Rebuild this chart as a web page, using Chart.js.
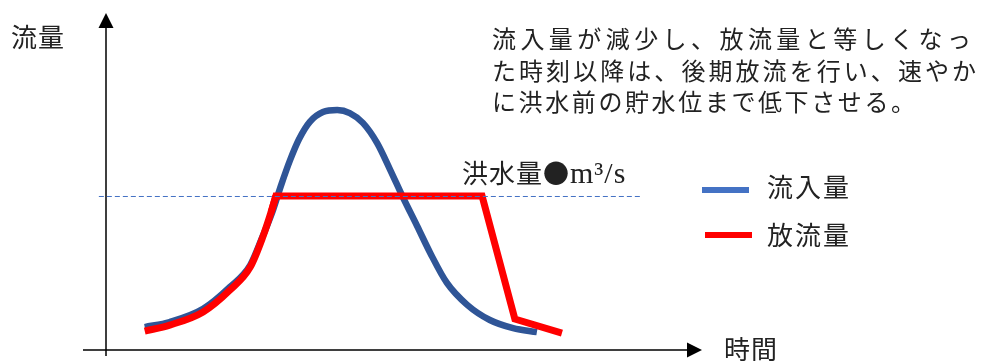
<!DOCTYPE html>
<html lang="ja">
<head>
<meta charset="utf-8">
<script src="https://cdn.jsdelivr.net/npm/chart.js@4.4.1/dist/chart.umd.min.js"></script>
<style>
    html, body { margin: 0; padding: 0; background: #fff; }
    #wrap { position: relative; width: 981px; height: 362px; overflow: hidden; }
    #chart { position: absolute; left: 0; top: 0; }
    .t {
        position: absolute;
        font-family: "Noto Sans CJK JP", "Noto Sans", sans-serif;
        color: #222;
        line-height: 1;
        white-space: nowrap;
    }
    .ax { font-size: 26px; letter-spacing: 1px; }
    .lg { font-size: 26px; letter-spacing: 2px; }
    .note { font-size: 24px; left: 492px; }
    .just { text-align: justify; text-align-last: justify; }
    .serif { font-family: "Liberation Serif", "DejaVu Serif", serif; font-size: 30px; letter-spacing: 1px; }
    .sw { position: absolute; height: 6px; }
</style>
</head>
<body>
<div id="wrap">
    <canvas id="chart" width="981" height="362"></canvas>

    <div class="t ax" style="left:11px; top:23px;">流量</div>
    <div class="t ax" style="left:724px; top:335px;">時間</div>

    <div class="t note just" style="top:26px; width:479px;">流入量が減少し、放流量と等しくなっ</div>
    <div class="t note just" style="top:58px; width:484px;">た時刻以降は、後期放流を行い、速やか</div>
    <div class="t note" style="top:89px; letter-spacing:2.6px;">に洪水前の貯水位まで低下させる。</div>

    <div class="t" style="left:462px; top:158px; font-size:26px; letter-spacing:1px;">洪水量●<span class="serif">m³/s</span></div>

    <div class="sw" style="left:702px; top:187px; width:47px; background:#4472C4;"></div>
    <div class="t lg" style="left:767px; top:173px;">流入量</div>
    <div class="sw" style="left:705px; top:232px; width:47px; background:#FF0000;"></div>
    <div class="t lg" style="left:767px; top:221px;">放流量</div>
</div>

<script>
// 時間・流量は任意単位 (0〜100)
const inflowT = [6.5, 10.7, 16.3, 20.8, 24.2, 26.3, 27.9, 29.4, 30.9, 32.4, 34.2, 36.4, 38.8, 40.9, 43.1, 45.5, 47.7, 49.8, 52.2, 54.4, 57.2, 60.6, 64.4, 68.3, 72.3];
const inflowQ = [6.8, 8.3, 12.2, 18.7, 25.2, 33.8, 40.9, 49.0, 56.4, 62.6, 67.7, 70.6, 71.2, 70.3, 67.4, 61.4, 53.4, 45.4, 36.8, 28.8, 19.9, 13.4, 8.9, 6.5, 5.3];

// 放流量: 洪水量に達するまでは流入量に追従 (曲線部)
const outRiseT = [6.5, 10.7, 16.3, 20.8, 24.2, 26.3, 27.7, 28.5];
const outRiseQ = [5.6, 7.4, 11.3, 17.8, 24.6, 33.5, 40.9, 45.7];
// 一定量放流 → 後期放流 (折れ線部)
const outFlatT = [27.7, 28.5, 63.1, 68.6, 76.5];
const outFlatQ = [40.9, 45.7, 45.7, 9.2, 5.0];

// 洪水量 (破線)
const floodT = [-1.2, 89.9];
const floodQ = [45.55, 45.55];

const COLORS = {
    inflow: "#2F5597",
    outflow: "#FF0000",
    flood: "#4472C4",
    axis: "#000000",
};

const pts = (xs, ys) => xs.map((x, i) => ({ x, y: ys[i] }));

// 矢印付きの座標軸
const arrowAxes = {
    id: "arrowAxes",
    beforeDatasetsDraw(chart) {
        const { ctx, chartArea: a, scales } = chart;
        const x0 = scales.x.getPixelForValue(0);
        const y0 = scales.y.getPixelForValue(0);
        ctx.save();
        ctx.strokeStyle = COLORS.axis;
        ctx.fillStyle = COLORS.axis;
        ctx.lineWidth = 1.5;
        ctx.beginPath();
        ctx.moveTo(x0, y0 + 6);
        ctx.lineTo(x0, a.top + 14);
        ctx.moveTo(x0 - 23, y0);
        ctx.lineTo(a.right - 14, y0);
        ctx.stroke();
        ctx.beginPath();
        ctx.moveTo(x0, a.top);
        ctx.lineTo(x0 - 7.5, a.top + 15);
        ctx.lineTo(x0 + 7.5, a.top + 15);
        ctx.closePath();
        ctx.fill();
        ctx.beginPath();
        ctx.moveTo(a.right, y0);
        ctx.lineTo(a.right - 15, y0 - 7.5);
        ctx.lineTo(a.right - 15, y0 + 7.5);
        ctx.closePath();
        ctx.fill();
        ctx.restore();
    },
};

new Chart(document.getElementById("chart").getContext("2d"), {
    type: "line",
    data: {
        datasets: [
            {
                label: "洪水量",
                data: pts(floodT, floodQ),
                borderColor: COLORS.flood,
                borderWidth: 1,
                borderDash: [5, 3],
                tension: 0,
                clip: false,
                order: 0,
            },
            {
                label: "放流量",
                data: pts(outFlatT, outFlatQ),
                borderColor: COLORS.outflow,
                borderWidth: 7,
                tension: 0,
                borderJoinStyle: "miter",
                borderCapStyle: "butt",
                clip: false,
                order: 1,
            },
            {
                label: "放流量",
                data: pts(outRiseT, outRiseQ),
                borderColor: COLORS.outflow,
                borderWidth: 7,
                cubicInterpolationMode: "monotone",
                borderCapStyle: "butt",
                clip: false,
                order: 2,
            },
            {
                label: "流入量",
                data: pts(inflowT, inflowQ),
                borderColor: COLORS.inflow,
                borderWidth: 6.5,
                cubicInterpolationMode: "monotone",
                borderCapStyle: "butt",
                clip: false,
                order: 3,
            },
        ],
    },
    options: {
        responsive: false,
        animation: false,
        devicePixelRatio: 1,
        layout: { padding: { left: 106, right: 279, top: 13, bottom: 12 } },
        elements: { point: { radius: 0, hoverRadius: 0 } },
        plugins: {
            legend: { display: false },
            tooltip: { enabled: false },
        },
        scales: {
            x: { type: "linear", min: 0, max: 100, display: false },
            y: { type: "linear", min: 0, max: 100, display: false },
        },
    },
    plugins: [arrowAxes],
});
</script>
</body>
</html>
